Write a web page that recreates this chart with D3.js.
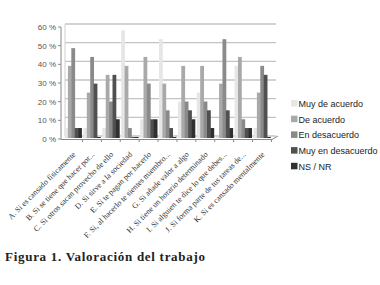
<!DOCTYPE html>
<html>
<head>
<meta charset="utf-8">
<script src="https://cdn.jsdelivr.net/npm/d3@7"></script>
<style>
  body { margin: 0; background: #fff; }
  svg { display: block; }
</style>
</head>
<body>
<div id="chart"></div>
<script>
// data (percent of 21 answers)
const categories = [
  'A. Si es cansado físicamente',
  'B. Si se tiene que hacer por...',
  'C. Si otros sacan provecho de ello',
  'D. Si sirve a la sociedad',
  'E. Si te pagan por hacerlo',
  'F. Si, al hacerlo te sientes miembro...',
  'G. Si añade valor a algo',
  'H. Si tiene un horario determinado',
  'I. Si alguien te dice lo que debes...',
  'J. Si forma parte de tus tareas de...',
  'K. Si es cansado mentalmente'
];
const seriesNames = ['Muy de acuerdo', 'De acuerdo', 'En desacuerdo', 'Muy en desacuerdo', 'NS / NR'];
const muyDeAcuerdo    = [4.8, 4.8, 4.8, 57.1, 9.5, 52.4, 19.0, 23.8, 0, 38.1, 4.8];
const deAcuerdo       = [38.1, 23.8, 33.3, 38.1, 42.9, 28.6, 38.1, 38.1, 28.6, 42.9, 23.8];
const enDesacuerdo    = [47.6, 42.9, 19.0, 4.8, 28.6, 14.3, 19.0, 19.0, 52.4, 9.5, 38.1];
const muyEnDesacuerdo = [4.8, 28.6, 33.3, 0, 9.5, 4.8, 14.3, 14.3, 14.3, 4.8, 33.3];
const nsNr            = [4.8, 0, 9.5, 0, 9.5, 0, 9.5, 4.8, 4.8, 4.8, 0];
const yTicks = [0, 10, 20, 30, 40, 50, 60];

const colors = ['#e6e6e6', '#a9a9a9', '#8a8a8a', '#505050', '#303030'];

const seriesValues = [muyDeAcuerdo, deAcuerdo, enDesacuerdo, muyEnDesacuerdo, nsNr];
const rows = categories.map((c, i) => ({
  cat: c,
  values: seriesNames.map((s, j) => ({ key: s, j: j, value: seriesValues[j][i] }))
}));

const width = 380, height = 285;
const depth = { dx: 4, dy: 2 };

const $svg = d3.select('#chart').append('svg')
  .attr('width', width)
  .attr('height', height);

const yScale = d3.scaleLinear().domain([0, 60]).range([138, 26]);
const x0 = d3.scaleBand().domain(categories).range([63, 272]).paddingInner(0.1).paddingOuter(0.08);
const x1 = d3.scaleBand().domain(seriesNames).range([0, x0.bandwidth()]);

// back wall gridlines
$svg.append('g').selectAll('line')
  .data(yTicks)
  .enter()
  .append('line')
  .attr('x1', 61 + depth.dx)
  .attr('x2', 272 + depth.dx)
  .attr('y1', d => yScale(d) - depth.dy)
  .attr('y2', d => yScale(d) - depth.dy)
  .style('stroke', '#c4c4c4')
  .style('stroke-width', 1.3);

// left wall edge
$svg.append('line')
  .attr('x1', 61 + depth.dx).attr('x2', 61 + depth.dx)
  .attr('y1', yScale(60) - depth.dy).attr('y2', yScale(0) - depth.dy)
  .style('stroke', '#d0d0d0');

// bars
const $groups = $svg.append('g').selectAll('g')
  .data(rows)
  .enter()
  .append('g')
  .attr('transform', d => `translate(${x0(d.cat)},0)`);

$groups.selectAll('rect')
  .data(d => d.values)
  .enter()
  .append('rect')
  .attr('x', d => x1(d.key))
  .attr('y', d => yScale(d.value) - 1)
  .attr('width', x1.bandwidth() + 0.4)
  .attr('height', d => yScale(0) - yScale(d.value) + 1)
  .style('fill', d => colors[d.j]);

// front axis
const $axis = $svg.append('g').style('stroke', '#888').style('stroke-width', 1);
$axis.append('line').attr('x1', 61).attr('x2', 61).attr('y1', yScale(60) + 1).attr('y2', yScale(0) + 1.5);
$axis.append('line').attr('x1', 61).attr('x2', 272).attr('y1', yScale(0) + 1.5).attr('y2', yScale(0) + 1.5);
$axis.append('line').attr('x1', 272).attr('x2', 272 + depth.dx + 2).attr('y1', yScale(0) + 1.5).attr('y2', yScale(0) - depth.dy);
$axis.selectAll('.ytick')
  .data(yTicks)
  .enter()
  .append('line')
  .attr('x1', 58).attr('x2', 61)
  .attr('y1', d => yScale(d) + 1).attr('y2', d => yScale(d) + 1);
$axis.selectAll('.xtick')
  .data(categories)
  .enter()
  .append('line')
  .attr('x1', d => x0(d) + x0.bandwidth() + x0.step() * x0.paddingInner() / 2)
  .attr('x2', d => x0(d) + x0.bandwidth() + x0.step() * x0.paddingInner() / 2)
  .attr('y1', yScale(0) + 1.5).attr('y2', yScale(0) + 4);

$svg.append('g').selectAll('text')
  .data(yTicks)
  .enter()
  .append('text')
  .attr('x', 56)
  .attr('y', d => yScale(d) + 4)
  .attr('text-anchor', 'end')
  .style('font-family', 'Liberation Sans, Arial, sans-serif')
  .style('font-size', '8px')
  .style('fill', '#555')
  .text(d => d + ' %');

// category labels
$svg.append('g').selectAll('text')
  .data(categories)
  .enter()
  .append('text')
  .attr('transform', d => `translate(${x0(d) + x0.bandwidth() / 2 + 3},${155}) rotate(-45)`)
  .attr('text-anchor', 'end')
  .style('font-family', 'Liberation Serif, serif')
  .style('font-size', '8px')
  .style('fill', '#333')
  .text(d => d);

// legend
const $legend = $svg.append('g').selectAll('g')
  .data(seriesNames)
  .enter()
  .append('g')
  .attr('transform', (d, i) => `translate(291,${100 + i * 15.7})`);

$legend.append('rect')
  .attr('width', 6.5)
  .attr('height', 6.5)
  .style('fill', (d, i) => colors[i]);

$legend.append('text')
  .attr('x', 7.5)
  .attr('y', 6.8)
  .style('font-family', 'Liberation Sans, Arial, sans-serif')
  .style('font-size', '9px')
  .style('fill', '#222')
  .text(d => d);

// caption
$svg.append('text')
  .attr('x', 5)
  .attr('y', 261)
  .attr('textLength', 200)
  .attr('lengthAdjust', 'spacing')
  .style('font-family', 'Liberation Serif, serif')
  .style('font-weight', 'bold')
  .style('font-size', '13px')
  .style('fill', '#222')
  .text('Figura 1. Valoración del trabajo');
</script>
</body>
</html>
